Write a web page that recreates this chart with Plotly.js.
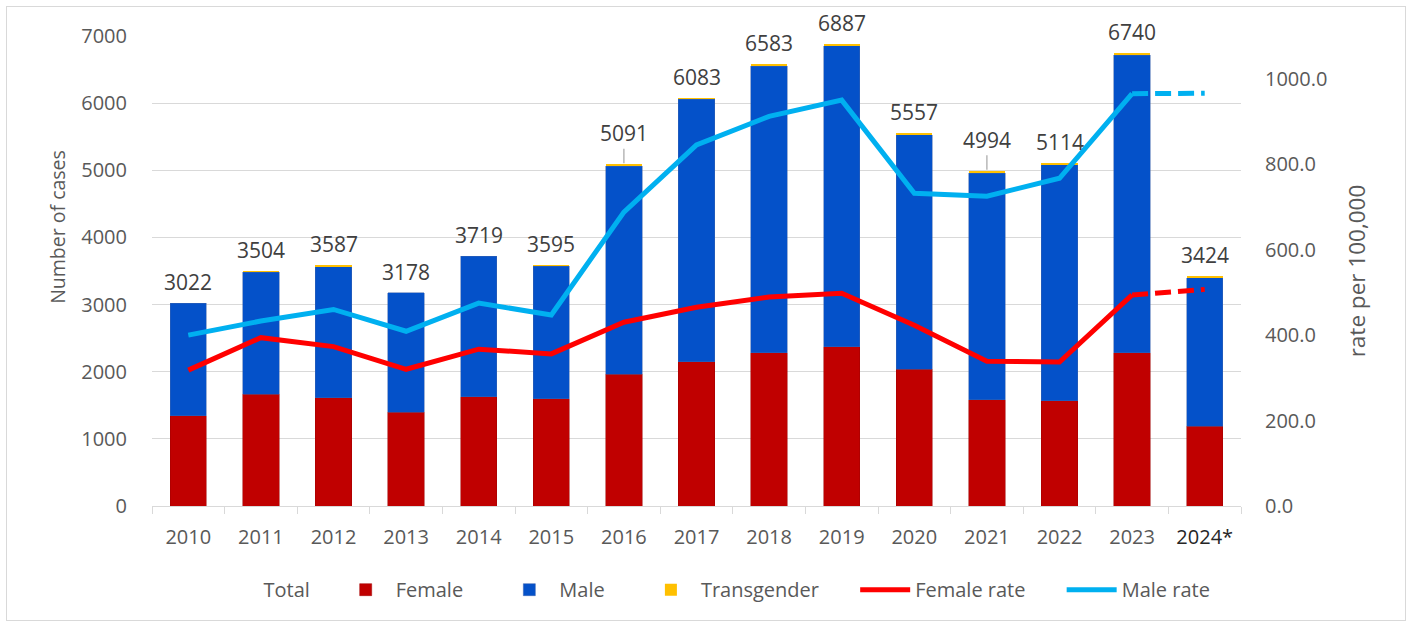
<!DOCTYPE html>
<html>
<head>
<meta charset="utf-8">
<script src="https://cdn.plot.ly/plotly-3.0.1.min.js"></script>
<style>
  body { margin: 0; background: #fff; }
  #wrap { position: relative; width: 1412px; height: 626px; }
  #frame { position: absolute; left: 6px; top: 6px; width: 1398px; height: 613px;
           border: 1px solid #d9d9d9; pointer-events: none; }
</style>
</head>
<body>
<div id="wrap">
  <div id="chart" style="width:1412px;height:626px;"></div>
  <div id="frame"></div>
</div>
<script>
// Cases by year
var years = ["2010","2011","2012","2013","2014","2015","2016","2017","2018","2019","2020","2021","2022","2023","2024*"];
var totals = [3022, 3504, 3587, 3178, 3719, 3595, 5091, 6083, 6583, 6887, 5557, 4994, 5114, 6740, 3424];
var female = [1345, 1663, 1613, 1395, 1630, 1600, 1960, 2150, 2280, 2370, 2040, 1580, 1570, 2280, 1190];
var transgender = [0, 20, 25, 0, 0, 25, 30, 25, 35, 30, 25, 35, 30, 30, 25];
// male = whatever is left of the total
var male = totals.map((t, i) => t - female[i] - transgender[i]);

// Rates per 100,000 (right axis)
var femaleRate = [318, 394, 373, 320, 367, 356, 430, 465, 489, 498, 423, 339, 337, 494, 507];
var maleRate = [400, 433, 460, 409, 475, 447, 688, 845, 912, 950, 732, 725, 767, 965, 966];

var grey = "#595959";
var fnt = "Open Sans, sans-serif";
// a little air between legend entries
var pad4 = "\u00a0".repeat(4), pad6 = "\u00a0".repeat(6);

// last year is provisional, drawn dashed
var n = years.length;
var solidX = years.slice(0, n - 1), dashX = years.slice(n - 2);

var data = [
  { x: years, y: totals, name: "Total" + pad4, type: "scatter", mode: "lines",
    line: { width: 0, color: "rgba(0,0,0,0)" }, hoverinfo: "skip" },
  { x: years, y: female, name: "Female" + pad6, type: "bar",
    marker: { color: "#C00000", line: { color: "#a00000", width: 0.5 } } },
  { x: years, y: male, name: "Male" + pad6, type: "bar",
    marker: { color: "#0451C9", line: { color: "#3a63b0", width: 0.5 } } },
  { x: years, y: transgender, name: "Transgender" + pad6, type: "bar",
    marker: { color: "#FFC000" } },
  { x: solidX, y: femaleRate.slice(0, n - 1), name: "Female rate" + pad6, type: "scatter", mode: "lines",
    yaxis: "y2", line: { color: "#FF0000", width: 5 } },
  { x: solidX, y: maleRate.slice(0, n - 1), name: "Male rate", type: "scatter", mode: "lines",
    yaxis: "y2", line: { color: "#00B0F0", width: 5 } },
  { x: dashX, y: femaleRate.slice(n - 2), type: "scatter", mode: "lines", showlegend: false,
    yaxis: "y2", line: { color: "#FF0000", width: 5, dash: "16px,7px" } },
  { x: dashX, y: maleRate.slice(n - 2), type: "scatter", mode: "lines", showlegend: false,
    yaxis: "y2", line: { color: "#00B0F0", width: 5, dash: "16px,7px" } }
];

// total labels above the stacks; two of them have leader lines
// (annotation x on a category axis is the category's index)
var leader = ["2016", "2021"];
var annotations = years.map((yr, i) => {
  var a = { x: i, y: totals[i], xref: "x", yref: "y", text: String(totals[i]),
            font: { family: fnt, size: 21, color: "#404040" } };
  if (leader.indexOf(yr) >= 0) {
    a.showarrow = true; a.arrowhead = 0; a.arrowwidth = 1.2; a.arrowcolor = "#a6a6a6";
    a.ax = 0; a.ay = -31; a.standoff = 1;
  } else {
    a.showarrow = false; a.yshift = 21;
  }
  return a;
});
// left axis title sits a bit above centre in the original
annotations.push({ text: "Number of cases", xref: "paper", yref: "paper", x: -0.0863, y: 0.594,
  xanchor: "center", yanchor: "middle",
  textangle: -90, showarrow: false, font: { family: fnt, size: 19.5, color: grey } });

var layout = {
  width: 1412, height: 626,
  margin: { l: 152, r: 171, t: 36, b: 120 },
  paper_bgcolor: "#fff", plot_bgcolor: "#fff",
  barmode: "stack", bargap: 0.5,
  hovermode: false,
  font: { family: fnt, size: 20, color: grey },
  xaxis: {
    type: "category",
    range: [-0.5, n - 0.5],
    tickvals: years.map((y, i) => i),
    ticktext: years.map(y => y === "2024*" ? '<span style="color:#262626">2024*</span>' : y),
    ticks: "outside", tickson: "boundaries", ticklen: 7, tickcolor: "#d9d9d9",
    ticklabelstandoff: 13,
    showline: true, linecolor: "#d9d9d9", linewidth: 1,
    tickfont: { family: fnt, size: 20, color: grey },
    showgrid: false
  },
  yaxis: {
    range: [0, 7000], dtick: 1000,
    gridcolor: "#d9d9d9", gridwidth: 1, zeroline: false,
    ticks: "", ticklabelstandoff: 24,
    tickfont: { family: fnt, size: 20, color: grey }
  },
  yaxis2: {
    overlaying: "y", side: "right",
    range: [0, 1100], tickvals: [0, 200, 400, 600, 800, 1000], tickformat: ".1f",
    showgrid: false, zeroline: false, ticks: "", ticklabelstandoff: 23,
    tickfont: { family: fnt, size: 20, color: grey },
    title: { text: "rate per 100,000", font: { family: fnt, size: 22.5, color: grey }, standoff: 22 }
  },
  legend: {
    orientation: "h", traceorder: "normal",
    x: 0.512, xanchor: "center", y: -0.178, yanchor: "middle",
    font: { family: fnt, size: 20, color: grey },
    itemwidth: 50
  },
  annotations: annotations
};

Plotly.newPlot("chart", data, layout, { displayModeBar: false, staticPlot: true });
</script>
</body>
</html>
